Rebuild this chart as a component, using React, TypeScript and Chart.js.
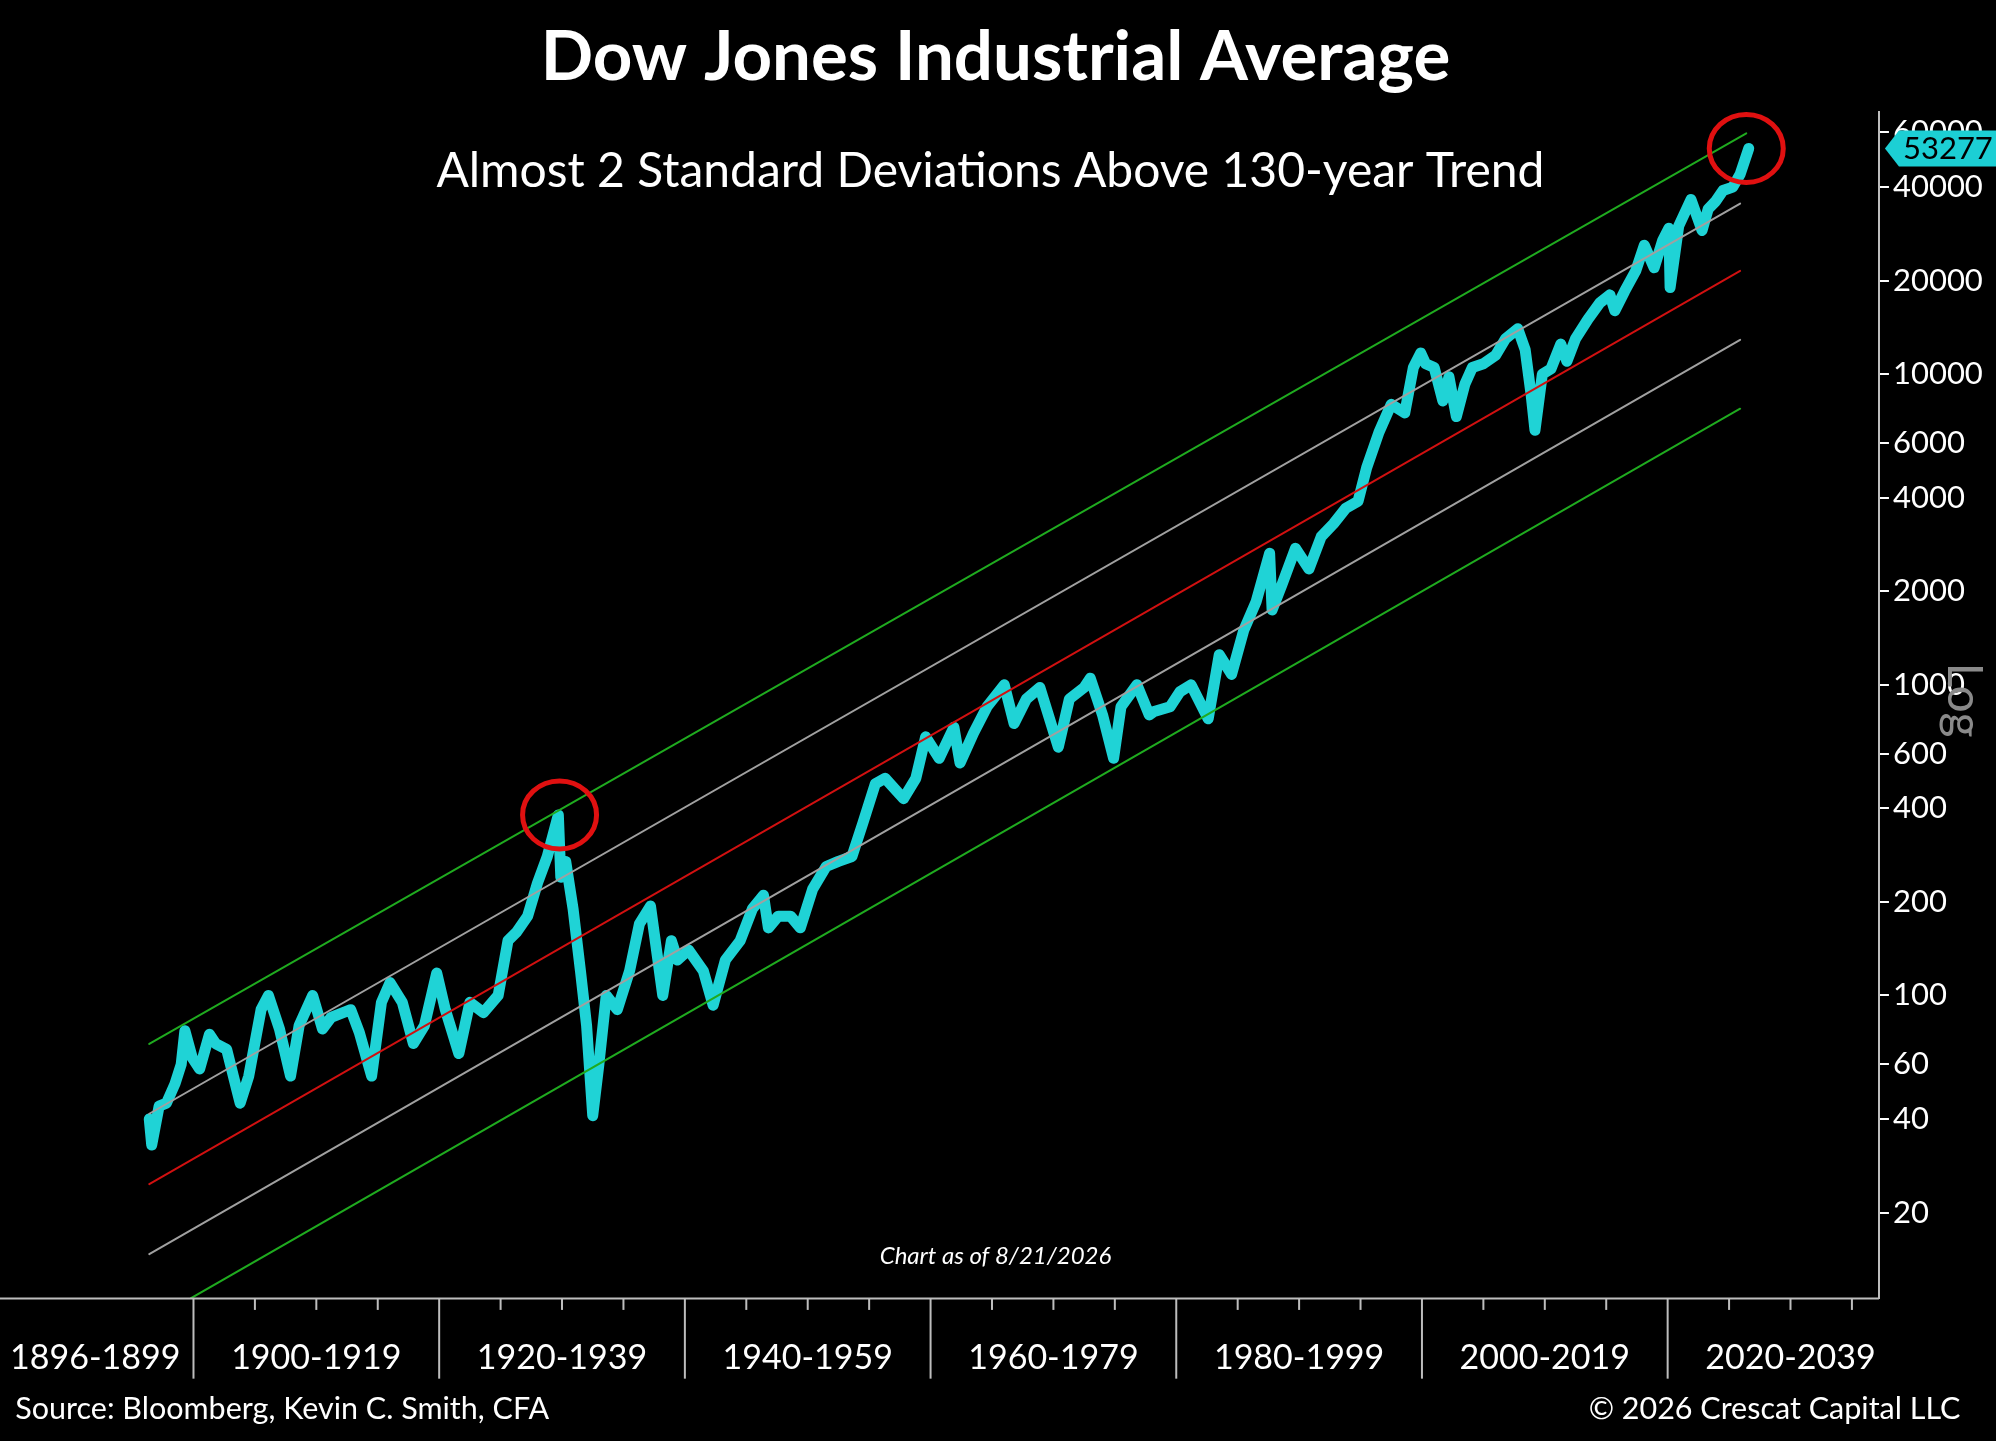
import React, { useEffect, useRef } from "react";
import { Chart, registerables } from "chart.js";
Chart.register(...registerables);

const djiaYears = [1896.4,1896.6,1897.2,1897.8,1898.5,1899.0,1899.3,1899.9,1900.5,1901.3,1901.8,1902.7,1903.8,1904.5,1905.5,1906.1,1907.0,1907.9,1908.6,1909.7,1910.5,1911.2,1912.8,1913.5,1914.5,1915.3,1916.0,1917.0,1917.9,1918.8,1919.8,1920.5,1921.6,1922.5,1923.6,1924.8,1925.6,1926.3,1927.2,1928.0,1928.8,1929.7,1929.9,1930.3,1930.9,1931.5,1932.0,1932.5,1933.0,1933.6,1934.5,1935.5,1936.3,1937.2,1938.2,1938.9,1939.4,1940.3,1941.5,1942.3,1943.3,1944.5,1945.5,1946.4,1946.8,1947.6,1948.6,1949.4,1950.4,1951.5,1952.5,1953.6,1954.5,1955.5,1956.3,1957.8,1958.8,1959.6,1960.7,1961.9,1962.4,1963.5,1964.6,1966.0,1966.8,1967.8,1968.9,1970.4,1971.3,1972.5,1973.0,1974.0,1974.9,1975.5,1976.8,1977.8,1978.2,1979.5,1980.3,1981.2,1982.6,1983.5,1984.5,1985.5,1986.5,1987.6,1987.8,1988.6,1989.7,1990.8,1991.8,1992.8,1993.8,1994.8,1995.5,1996.5,1997.5,1998.6,1999.3,1999.9,2000.3,2001.0,2001.7,2002.2,2002.8,2003.5,2004.1,2005.0,2006.0,2006.8,2007.8,2008.4,2008.9,2009.2,2009.8,2010.5,2011.3,2011.8,2012.5,2013.5,2014.5,2015.3,2015.7,2016.5,2017.4,2018.1,2018.9,2019.6,2020.1,2020.2,2020.9,2021.9,2022.8,2023.3,2023.9,2024.5,2025.3,2025.9,2026.6];
const djiaValues = [40,33,44,45,52,60,77,63,58,75,70,67,45,55,90,100,78,55,80,100,78,85,90,76,55,95,110,95,70,80,118,90,65,95,88,100,150,160,180,230,280,381,240,270,190,120,80,41,60,100,90,120,170,194,100,150,130,140,120,93,130,150,190,210,165,180,180,165,220,260,270,280,360,480,500,430,500,680,580,730,560,700,850,1000,750,900,980,630,900,980,1050,800,580,850,1000,800,820,850,950,1000,777,1250,1080,1500,1850,2650,1740,2100,2750,2360,3000,3300,3700,3900,5000,6500,8000,7500,10500,11700,10800,10500,8200,9800,7300,9300,10500,10800,11500,13000,14000,12000,8500,6600,10000,10400,12500,11000,13000,15000,17000,18000,16000,18500,21500,26000,22000,27000,29500,19000,30000,36500,29000,34000,36000,39000,40000,44000,53277];

const trendRedYears = [1896.4, 2025.9];
const trendRedValues = [24.7, 21500];
const upperGrayValues = [41.6, 35400];
const lowerGrayValues = [14.7, 12900];
const upperGreenYears = [1896.4, 2026.4];
const upperGreenValues = [69.8, 59600];
const lowerGreenYears = [1899.8, 2025.9];
const lowerGreenValues = [10.6, 7740];

const yTicks = [20, 40, 60, 100, 200, 400, 600, 1000, 2000, 4000, 6000, 10000, 20000, 40000, 60000];
const periodLabels = ["1896-1899","1900-1919","1920-1939","1940-1959","1960-1979","1980-1999","2000-2019","2020-2039"];
const periodMids = [1892, 1910, 1930, 1950, 1970, 1990, 2010, 2030];
const majorYears = [1900, 1920, 1940, 1960, 1980, 2000, 2020];
const lastValue = 53277;

const S = 1.273;
const FONT = "Lato, 'Open Sans', sans-serif";

const pts = (xs: number[], ys: number[]) => ys.map((v, i) => ({ x: xs[i], y: v }));

export default function App() {
  const ref = useRef<HTMLCanvasElement>(null);
  useEffect(() => {
    document.body.style.margin = "0";
    document.body.style.background = "#000";
    const line = (data: any, color: string, w: number) => ({
      data, borderColor: color, borderWidth: w, pointRadius: 0, tension: 0, fill: false,
      borderJoinStyle: "round", borderCapStyle: "round",
    });
    const overlay = {
      id: "overlay",
      afterDraw(chart: any) {
        const ctx = chart.ctx;
        const xs = chart.scales.x, ys = chart.scales.y;
        const ca = chart.chartArea;
        ctx.save();
        ctx.fillStyle = "#fff";
        ctx.textAlign = "center";
        ctx.textBaseline = "middle";
        ctx.font = `bold ${69}px ${FONT}`;
        ctx.fillText("Dow Jones Industrial Average", 782 * S, 45 * S);
        ctx.font = `${48}px ${FONT}`;
        ctx.fillText("Almost 2 Standard Deviations Above 130-year Trend", 778 * S, 135 * S);
        ctx.font = `italic ${24}px ${FONT}`;
        ctx.fillText("Chart as of 8/21/2026", 782 * S, 987 * S);
        ctx.strokeStyle = "#bdbdbd";
        ctx.lineWidth = 2;
        ctx.beginPath();
        ctx.moveTo(0, ca.bottom); ctx.lineTo(ca.right, ca.bottom); ctx.stroke();
        for (let yr = 1900; yr <= 2035; yr += 5) {
          const px = xs.getPixelForValue(yr);
          ctx.beginPath();
          const major = majorYears.includes(yr);
          ctx.moveTo(px, ca.bottom);
          ctx.lineTo(px, ca.bottom + (major ? 63 * S : 9 * S));
          ctx.stroke();
        }
        ctx.fillStyle = "#fff";
        ctx.font = `${34}px ${FONT}`;
        periodLabels.forEach((l, i) => ctx.fillText(l, xs.getPixelForValue(periodMids[i]), 1067 * S));
        ctx.textAlign = "left";
        ctx.font = `${30.5}px ${FONT}`;
        ctx.fillText("Source: Bloomberg, Kevin C. Smith, CFA", 12 * S, 1107 * S);
        ctx.textAlign = "right";
        ctx.fillText("© 2026 Crescat Capital LLC", 1540 * S, 1107 * S);
        ctx.strokeStyle = "#e01010";
        ctx.lineWidth = 5;
        [[1929.8, 381], [2026.4, lastValue]].forEach(([yr, v]) => {
          ctx.beginPath();
          ctx.ellipse(xs.getPixelForValue(yr), ys.getPixelForValue(v), 37, 34, 0, 0, Math.PI * 2);
          ctx.stroke();
        });
        const ly = ys.getPixelForValue(lastValue);
        const lx = ca.right + 6;
        ctx.fillStyle = "#1ccfd4";
        ctx.beginPath();
        ctx.moveTo(lx, ly);
        ctx.lineTo(lx + 14, ly - 18);
        ctx.lineTo(1996, ly - 18);
        ctx.lineTo(1996, ly + 18);
        ctx.lineTo(lx + 14, ly + 18);
        ctx.closePath(); ctx.fill();
        ctx.fillStyle = "#000";
        ctx.textAlign = "left";
        ctx.font = `${31}px ${FONT}`;
        ctx.fillText(String(lastValue), lx + 18, ly + 1);
        ctx.translate(1963, 700);
        ctx.rotate(Math.PI / 2);
        ctx.fillStyle = "#8a8a8a";
        ctx.textAlign = "center";
        ctx.font = `${48}px ${FONT}`;
        ctx.fillText("Log", 0, 0);
        ctx.restore();
      },
    };
    const chart = new Chart(ref.current!, {
      type: "line",
      data: {
        datasets: [
          line(pts(upperGreenYears, upperGreenValues), "#1faa1f", 2),
          line(pts(trendRedYears, upperGrayValues), "#a0a0a0", 2),
          line(pts(trendRedYears, trendRedValues), "#d01010", 2),
          line(pts(trendRedYears, lowerGrayValues), "#a0a0a0", 2),
          line(pts(lowerGreenYears, lowerGreenValues), "#1faa1f", 2),
          line(pts(djiaYears, djiaValues), "#1fd3d6", 11),
        ] as any,
      },
      options: {
        animation: false,
        responsive: false,
        devicePixelRatio: 1,
        layout: { padding: { top: 88 * S, bottom: 1441 - 1020 * S, left: 0, right: 0 } },
        plugins: { legend: { display: false }, tooltip: { enabled: false } },
        scales: {
          x: { type: "linear", min: 1884.25, max: 2037.2, display: false },
          y: {
            type: "logarithmic", position: "right", min: 10.58, max: 69800,
            afterBuildTicks: (s: any) => { s.ticks = yTicks.map((v) => ({ value: v })); },
            afterFit: (s: any) => { s.width = 1996 - 1476 * S; },
            grid: { drawOnChartArea: false, color: "#ffffff", tickLength: 10, lineWidth: 2 },
            border: { color: "#bdbdbd", width: 2 },
            ticks: { color: "#fff", font: { family: FONT, size: 31 }, padding: 4, callback: (v: any) => String(v) },
          },
        },
      },
      plugins: [overlay],
    });
    return () => chart.destroy();
  }, []);
  return <canvas ref={ref} width={1996} height={1441} style={{ display: "block", background: "#000" }} />;
}
